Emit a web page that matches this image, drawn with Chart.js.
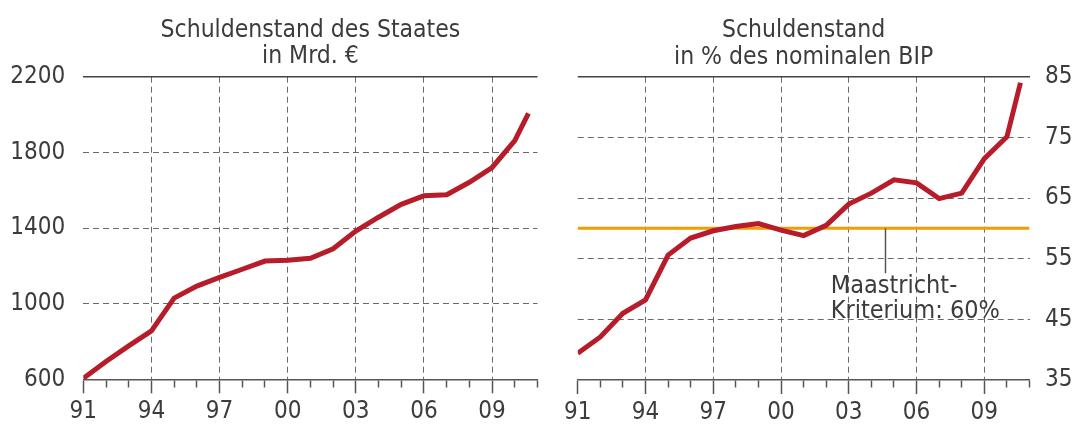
<!DOCTYPE html>
<html lang="de">
<head>
<meta charset="utf-8">
<title>Schuldenstand des Staates</title>
<script src="https://cdn.jsdelivr.net/npm/chart.js@4.4.1/dist/chart.umd.min.js"></script>
<style>
  html, body { margin: 0; padding: 0; background: #fff; }
  #wrap { position: relative; width: 1075px; height: 441px; overflow: hidden; }
  .panel { position: absolute; top: 0; height: 441px; }
  #panel-abs { left: 0; width: 560px; }
  #panel-pct { left: 560px; width: 515px; }
</style>
</head>
<body>
<div id="wrap">
  <div class="panel" id="panel-abs"><canvas id="chart-abs"></canvas></div>
  <div class="panel" id="panel-pct"><canvas id="chart-pct"></canvas></div>
</div>
<script>
// ── Data ─────────────────────────────────────────────────────
// last point sits a little past 2010 in the original graphic
const years = [1991, 1992, 1993, 1994, 1995, 1996, 1997, 1998, 1999, 2000,
               2001, 2002, 2003, 2004, 2005, 2006, 2007, 2008, 2009, 2010, 2010.6];

// Schuldenstand des Staates, Mrd. €
const debtBn = [605, 694, 777, 856, 1029, 1093, 1139, 1182, 1225, 1230,
                1240, 1290, 1384, 1457, 1525, 1570, 1576, 1642, 1720, 1862, 2006];

// Schuldenstand in % des nominalen BIP
const debtPct = [39.4, 42.1, 46.0, 48.2, 55.6, 58.4, 59.6, 60.3, 60.8, 59.7,
                 58.8, 60.5, 64.0, 65.8, 68.0, 67.5, 64.9, 65.8, 71.5, 75.1, 84.0];

const maastricht = 60;

const absTicks = [600, 1000, 1400, 1800, 2200];
const pctTicks = [35, 45, 55, 65, 75, 85];
const yearLabels = [1991, 1994, 1997, 2000, 2003, 2006, 2009];

const absTitle = ['Schuldenstand des Staates', 'in Mrd. €'];
const pctTitle = ['Schuldenstand', 'in % des nominalen BIP'];
const noteLines = ['Maastricht-', 'Kriterium: 60%'];

// ── Style ────────────────────────────────────────────────────
const FONT = '"DejaVu Sans Condensed", "Liberation Sans", Arial, sans-serif';
const TEXT = '#3c3c3c';
const AXIS = '#555';
const GRID = '#6a6a6a';
const RED = '#b71c2b';
const ORANGE = '#f29e02';
const DASH = [6, 4];

const X_MIN = 1991;
const X_MAX = 2011;

const isMajorYear = v => yearLabels.includes(v);

function points(values) {
  return years.map((x, i) => ({ x, y: values[i] }));
}

function xScale(height) {
  return {
    type: 'linear',
    min: X_MIN,
    max: X_MAX,
    afterFit: s => { s.height = height; },
    afterBuildTicks: s => {
      s.ticks = [];
      for (let v = X_MIN; v <= X_MAX; v++) s.ticks.push({ value: v });
    },
    ticks: {
      autoSkip: false,
      maxRotation: 0,
      padding: 4,
      color: TEXT,
      font: { family: FONT, size: 24 },
      callback: v => isMajorYear(v) ? String(v).slice(2) : '',
    },
    grid: {
      drawTicks: true,
      tickLength: 14,
      tickWidth: 1.5,
      tickColor: AXIS,
      // minor year ticks are half length: dash cuts them off after 7px
      tickBorderDash: ctx => (ctx.tick && isMajorYear(ctx.tick.value)) ? [] : [7, 40],
      color: ctx => (ctx.tick && isMajorYear(ctx.tick.value) && ctx.tick.value !== X_MIN)
        ? GRID : 'rgba(0,0,0,0)',
      lineWidth: 1,
    },
    border: { display: true, color: AXIS, width: 1.5, dash: DASH },
  };
}

function yScale(position, tickValues, width, padding) {
  const top = tickValues[tickValues.length - 1];
  const bottom = tickValues[0];
  return {
    type: 'linear',
    position,
    min: bottom,
    max: top,
    afterFit: s => { s.width = width; },
    afterBuildTicks: s => { s.ticks = tickValues.map(value => ({ value })); },
    ticks: {
      padding,
      color: TEXT,
      font: { family: FONT, size: 24 },
      callback: v => String(v),
    },
    grid: {
      drawTicks: false,
      color: ctx => {
        if (!ctx.tick) return GRID;
        if (ctx.tick.value === top) return '#444';
        if (ctx.tick.value === bottom) return 'rgba(0,0,0,0)';
        return GRID;
      },
      lineWidth: ctx => (ctx.tick && ctx.tick.value === top) ? 1.5 : 1,
    },
    border: {
      display: false,
      dash: ctx => (ctx.tick && ctx.tick.value === top) ? [] : DASH,
    },
  };
}

// ── Plugins ──────────────────────────────────────────────────
const panelTitle = {
  id: 'panelTitle',
  afterDraw(chart, args, opts) {
    const { ctx, chartArea } = chart;
    const cx = (chartArea.left + chartArea.right) / 2;
    ctx.save();
    ctx.font = `${opts.size}px ${FONT}`;
    ctx.fillStyle = TEXT;
    ctx.textAlign = 'center';
    ctx.textBaseline = 'alphabetic';
    opts.lines.forEach((line, i) => ctx.fillText(line, cx, opts.baseline + i * opts.lineGap));
    ctx.restore();
  },
};

// leader line + label for the 60 % line (positions in data units)
const NOTE_LINE_X = 2004.6;
const NOTE_LINE_END = 52.6;
const NOTE_TEXT_X = 2002.2;
const NOTE_BASELINES = [49.3, 45.15];

const maastrichtNote = {
  id: 'maastrichtNote',
  afterDatasetsDraw(chart) {
    const { ctx, scales: { x, y } } = chart;
    const lx = Math.round(x.getPixelForValue(NOTE_LINE_X)) + 0.5;
    ctx.save();
    ctx.strokeStyle = AXIS;
    ctx.lineWidth = 1.5;
    ctx.beginPath();
    ctx.moveTo(lx, y.getPixelForValue(maastricht));
    ctx.lineTo(lx, y.getPixelForValue(NOTE_LINE_END));
    ctx.stroke();

    ctx.font = `25px ${FONT}`;
    ctx.fillStyle = TEXT;
    ctx.textAlign = 'left';
    ctx.textBaseline = 'alphabetic';
    const tx = x.getPixelForValue(NOTE_TEXT_X);
    noteLines.forEach((line, i) => ctx.fillText(line, tx, y.getPixelForValue(NOTE_BASELINES[i])));
    ctx.restore();
  },
};

const commonOptions = {
  responsive: true,
  maintainAspectRatio: false,
  animation: false,
  events: [],
  elements: { point: { radius: 0 }, line: { tension: 0 } },
};

// ── Left panel: Mrd. € ───────────────────────────────────────
new Chart(document.getElementById('chart-abs'), {
  type: 'line',
  data: {
    datasets: [{
      data: points(debtBn),
      borderColor: RED,
      borderWidth: 5,
      fill: false,
    }],
  },
  options: {
    ...commonOptions,
    layout: { padding: { top: 76.7, left: 0, right: 22.5, bottom: 0 } },
    scales: {
      x: xScale(441 - 379.3),
      y: yScale('left', absTicks, 83.3, 18),
    },
    plugins: {
      legend: { display: false },
      tooltip: { enabled: false },
      panelTitle: { lines: absTitle, size: 24.5, baseline: 37.3, lineGap: 26 },
    },
  },
  plugins: [panelTitle],
});

// ── Right panel: % des BIP ───────────────────────────────────
new Chart(document.getElementById('chart-pct'), {
  type: 'line',
  data: {
    datasets: [{
      data: points(debtPct),
      borderColor: RED,
      borderWidth: 5,
      fill: false,
    }, {
      data: [{ x: X_MIN, y: maastricht }, { x: X_MAX, y: maastricht }],
      borderColor: ORANGE,
      borderWidth: 3,
      fill: false,
    }],
  },
  options: {
    ...commonOptions,
    layout: { padding: { top: 76.7, left: 15.7, right: 0, bottom: 0 } },
    scales: {
      x: xScale(441 - 380),
      y: yScale('right', pctTicks, 45.5, 15.5),
    },
    plugins: {
      legend: { display: false },
      tooltip: { enabled: false },
      panelTitle: { lines: pctTitle, size: 24.5, baseline: 37, lineGap: 26.5 },
    },
  },
  plugins: [panelTitle, maastrichtNote],
});
</script>
</body>
</html>
